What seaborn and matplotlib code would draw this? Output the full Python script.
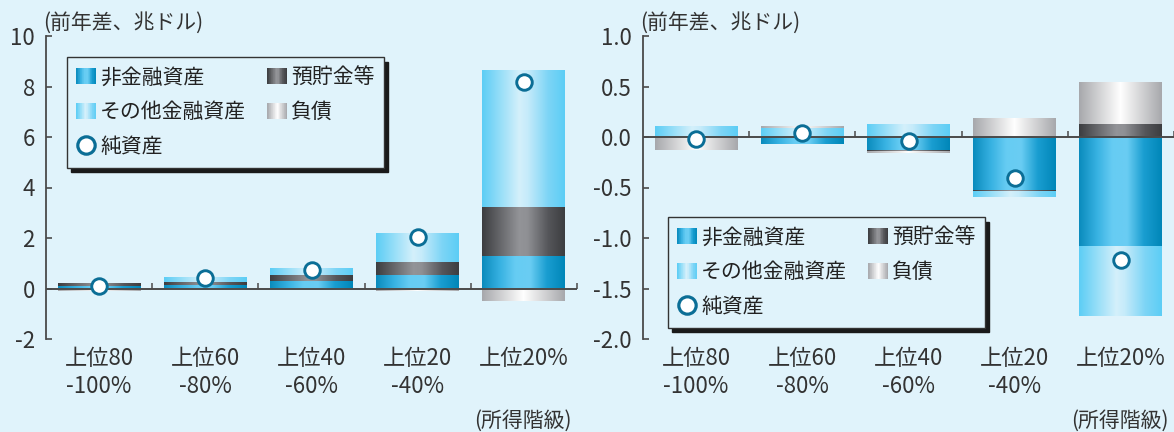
import numpy as np
import pandas as pd
import matplotlib
matplotlib.use("Agg")
import matplotlib.pyplot as plt
import seaborn as sns
from matplotlib.colors import LinearSegmentedColormap
from matplotlib.legend_handler import HandlerBase
from matplotlib.patches import Rectangle
from matplotlib.lines import Line2D
from matplotlib.markers import TICKUP

# ---------------- data ----------------
categories = ["上位80\n-100%", "上位60\n-80%", "上位40\n-60%", "上位20\n-40%", "上位20%"]
series_names = ["非金融資産", "預貯金等", "その他金融資産", "負債"]
net_name = "純資産"

# left panel (change from previous year, trillion dollars)
left_nonfin = [0.09, 0.12, 0.29, 0.53, 1.28]
left_deposit = [0.08, 0.13, 0.24, 0.51, 1.94]
left_otherfin = [0.00, 0.16, 0.24, 1.11, 5.39]
left_liab = [-0.09, -0.02, -0.03, -0.09, -0.49]
left_net = [0.09, 0.40, 0.73, 2.05, 8.17]
left_yticks = [-2, 0, 2, 4, 6, 8, 10]
left_yticklabels = ["-2", "0", "2", "4", "6", "8", "10"]

# right panel
right_nonfin = [0.0, -0.065, -0.136, -0.53, -1.085]
right_deposit = [0.0, 0.0, -0.007, -0.008, 0.13]
right_otherfin = [0.105, 0.085, 0.12, -0.052, -0.69]
right_liab = [-0.125, 0.01, -0.017, 0.18, 0.41]
right_net = [-0.02, 0.035, -0.04, -0.41, -1.22]
right_yticks = [-2.0, -1.5, -1.0, -0.5, 0.0, 0.5, 1.0]
right_yticklabels = ["-2.0", "-1.5", "-1.0", "-0.5", "0.0", "0.5", "1.0"]

unit_label = "(前年差、兆ドル)"
xaxis_label = "(所得階級)"

# ---------------- style ----------------
BG = "#e0f3fb"
TEXT = "#333333"
AXIS = "#4a4a4a"
RING = "#0b6e96"

sns.set_theme(style="white")
plt.rcParams["font.family"] = ["Noto Sans CJK JP", "DejaVu Sans"]
plt.rcParams["axes.unicode_minus"] = False

gradient_stops = {
    "非金融資産": [(0.0, "#0a8bbd"), (0.22, "#38b2e2"), (0.40, "#66ccf3"),
                 (0.58, "#6acdf3"), (0.78, "#1a9ed1"), (1.0, "#0086b8")],
    "預貯金等": [(0.0, "#3c3d40"), (0.45, "#939498"), (0.55, "#8f9094"),
              (0.80, "#55565a"), (1.0, "#3c3d40")],
    "その他金融資産": [(0.0, "#5ccdf5"), (0.45, "#d4f0fb"), (0.55, "#c6ebfa"),
                  (0.80, "#7dd5f6"), (1.0, "#5ccdf5")],
    "負債": [(0.0, "#a7a8ac"), (0.5, "#ffffff"), (1.0, "#a7a8ac")],
}
cmaps = {k: LinearSegmentedColormap.from_list(k, v) for k, v in gradient_stops.items()}
GRAD = np.linspace(0, 1, 256).reshape(1, -1)


class GradientProxy:
    def __init__(self, cmap):
        self.cmap = cmap


class HandlerGradient(HandlerBase):
    def create_artists(self, legend, orig_handle, xdescent, ydescent,
                       width, height, fontsize, trans):
        n = 30
        arts = []
        for i in range(n):
            r = Rectangle((-xdescent + width * i / n, -ydescent), width / n * 1.06, height,
                          facecolor=orig_handle.cmap((i + 0.5) / n), edgecolor="none",
                          transform=trans)
            arts.append(r)
        return arts


def draw_panel(ax, values, net, yticks, yticklabels, legend_anchor):
    ax.set_facecolor(BG)
    n = len(categories)
    pos_base = np.zeros(n)
    neg_base = np.zeros(n)
    for name, vals in zip(series_names, values):
        vals = np.asarray(vals, dtype=float)
        bottom = np.where(vals >= 0, pos_base, neg_base)
        before = len(ax.patches)
        sns.barplot(x=categories, y=vals, order=categories, bottom=bottom, width=0.78,
                    color=cmaps[name](0.5), errorbar=None, linewidth=0, edgecolor="none",
                    saturation=1, ax=ax, zorder=2)
        # horizontal shading on each bar segment
        for p in ax.patches[before:]:
            h = p.get_height()
            if abs(h) < 1e-9:
                continue
            x0, y0, w = p.get_x(), p.get_y(), p.get_width()
            ax.imshow(GRAD, cmap=cmaps[name], extent=(x0, x0 + w, y0, y0 + h),
                      aspect="auto", interpolation="bilinear", zorder=2.5)
        pos_base += np.where(vals >= 0, vals, 0)
        neg_base += np.where(vals < 0, vals, 0)

    # zero line with category separators
    ax.axhline(0, color=AXIS, lw=1.4, zorder=3)
    bounds = np.arange(n) + 0.5
    ax.plot(bounds, np.zeros(n), linestyle="none", marker=TICKUP, markersize=4,
            markeredgewidth=1.1, color=AXIS, zorder=3, clip_on=False)

    sns.scatterplot(x=np.arange(n), y=net, s=125, color="white", edgecolor=RING,
                    linewidth=2.1, zorder=5, ax=ax, legend=False)

    ax.set_xlim(-0.5, n - 0.5)
    ax.set_ylim(yticks[0], yticks[-1])
    ax.set_yticks(yticks)
    ax.set_yticklabels(yticklabels)
    ax.set_xticks(np.arange(n))
    ax.set_xticklabels(categories)
    ax.set_xlabel("")
    ax.set_ylabel("")
    for t in ax.get_xticklabels():
        t.set_linespacing(1.25)

    for s in ["top", "right", "bottom"]:
        ax.spines[s].set_visible(False)
    ax.spines["left"].set_color(AXIS)
    ax.spines["left"].set_linewidth(1.3)
    ax.tick_params(axis="y", direction="in", length=4.5, width=1.2, color=AXIS,
                   pad=8, labelsize=16, labelcolor=TEXT, left=True)
    ax.tick_params(axis="x", length=0, pad=6, labelsize=16, labelcolor=TEXT)

    ax.text(-0.006, 1.045, unit_label, transform=ax.transAxes, ha="left", va="center",
            fontsize=15, color=TEXT)
    ax.text(0.99, -0.27, xaxis_label, transform=ax.transAxes, ha="right", va="center",
            fontsize=15, color=TEXT)

    handles = [GradientProxy(cmaps["非金融資産"]), GradientProxy(cmaps["その他金融資産"]),
               Line2D([], [], linestyle="none", marker="o", markersize=12.5,
                      markerfacecolor="white", markeredgecolor=RING, markeredgewidth=2.3),
               GradientProxy(cmaps["預貯金等"]), GradientProxy(cmaps["負債"])]
    labels = ["非金融資産", "その他金融資産", net_name, "預貯金等", "負債"]
    leg = ax.legend(handles, labels, ncol=2, loc="upper left",
                    bbox_to_anchor=legend_anchor, bbox_transform=fig.transFigure,
                    handler_map={GradientProxy: HandlerGradient()},
                    frameon=True, fancybox=False, edgecolor="#333333", facecolor=BG,
                    framealpha=1, shadow={"ox": 3, "oy": -3.5, "color": "#1a1a1a", "alpha": 1},
                    fontsize=15, handlelength=0.95, handleheight=0.85, handletextpad=0.2,
                    columnspacing=1.0, labelspacing=0.62, borderpad=0.45, borderaxespad=0)
    leg.get_frame().set_linewidth(1.0)
    for t in leg.get_texts():
        t.set_color("#222222")
    leg.set_zorder(6)


W, H = 1174, 432
fig = plt.figure(figsize=(W / 100, H / 100), dpi=100, facecolor=BG)
axL = fig.add_axes([46 / W, 93 / H, 531 / W, 303 / H])
axR = fig.add_axes([643 / W, 93 / H, 531 / W, 303 / H])

draw_panel(axL, [left_nonfin, left_deposit, left_otherfin, left_liab], left_net,
           left_yticks, left_yticklabels, (67 / W, 1 - 57 / H))
draw_panel(axR, [right_nonfin, right_deposit, right_otherfin, right_liab], right_net,
           right_yticks, right_yticklabels, (668 / W, 1 - 217 / H))

fig.savefig("out.png", dpi=100, facecolor=BG)
